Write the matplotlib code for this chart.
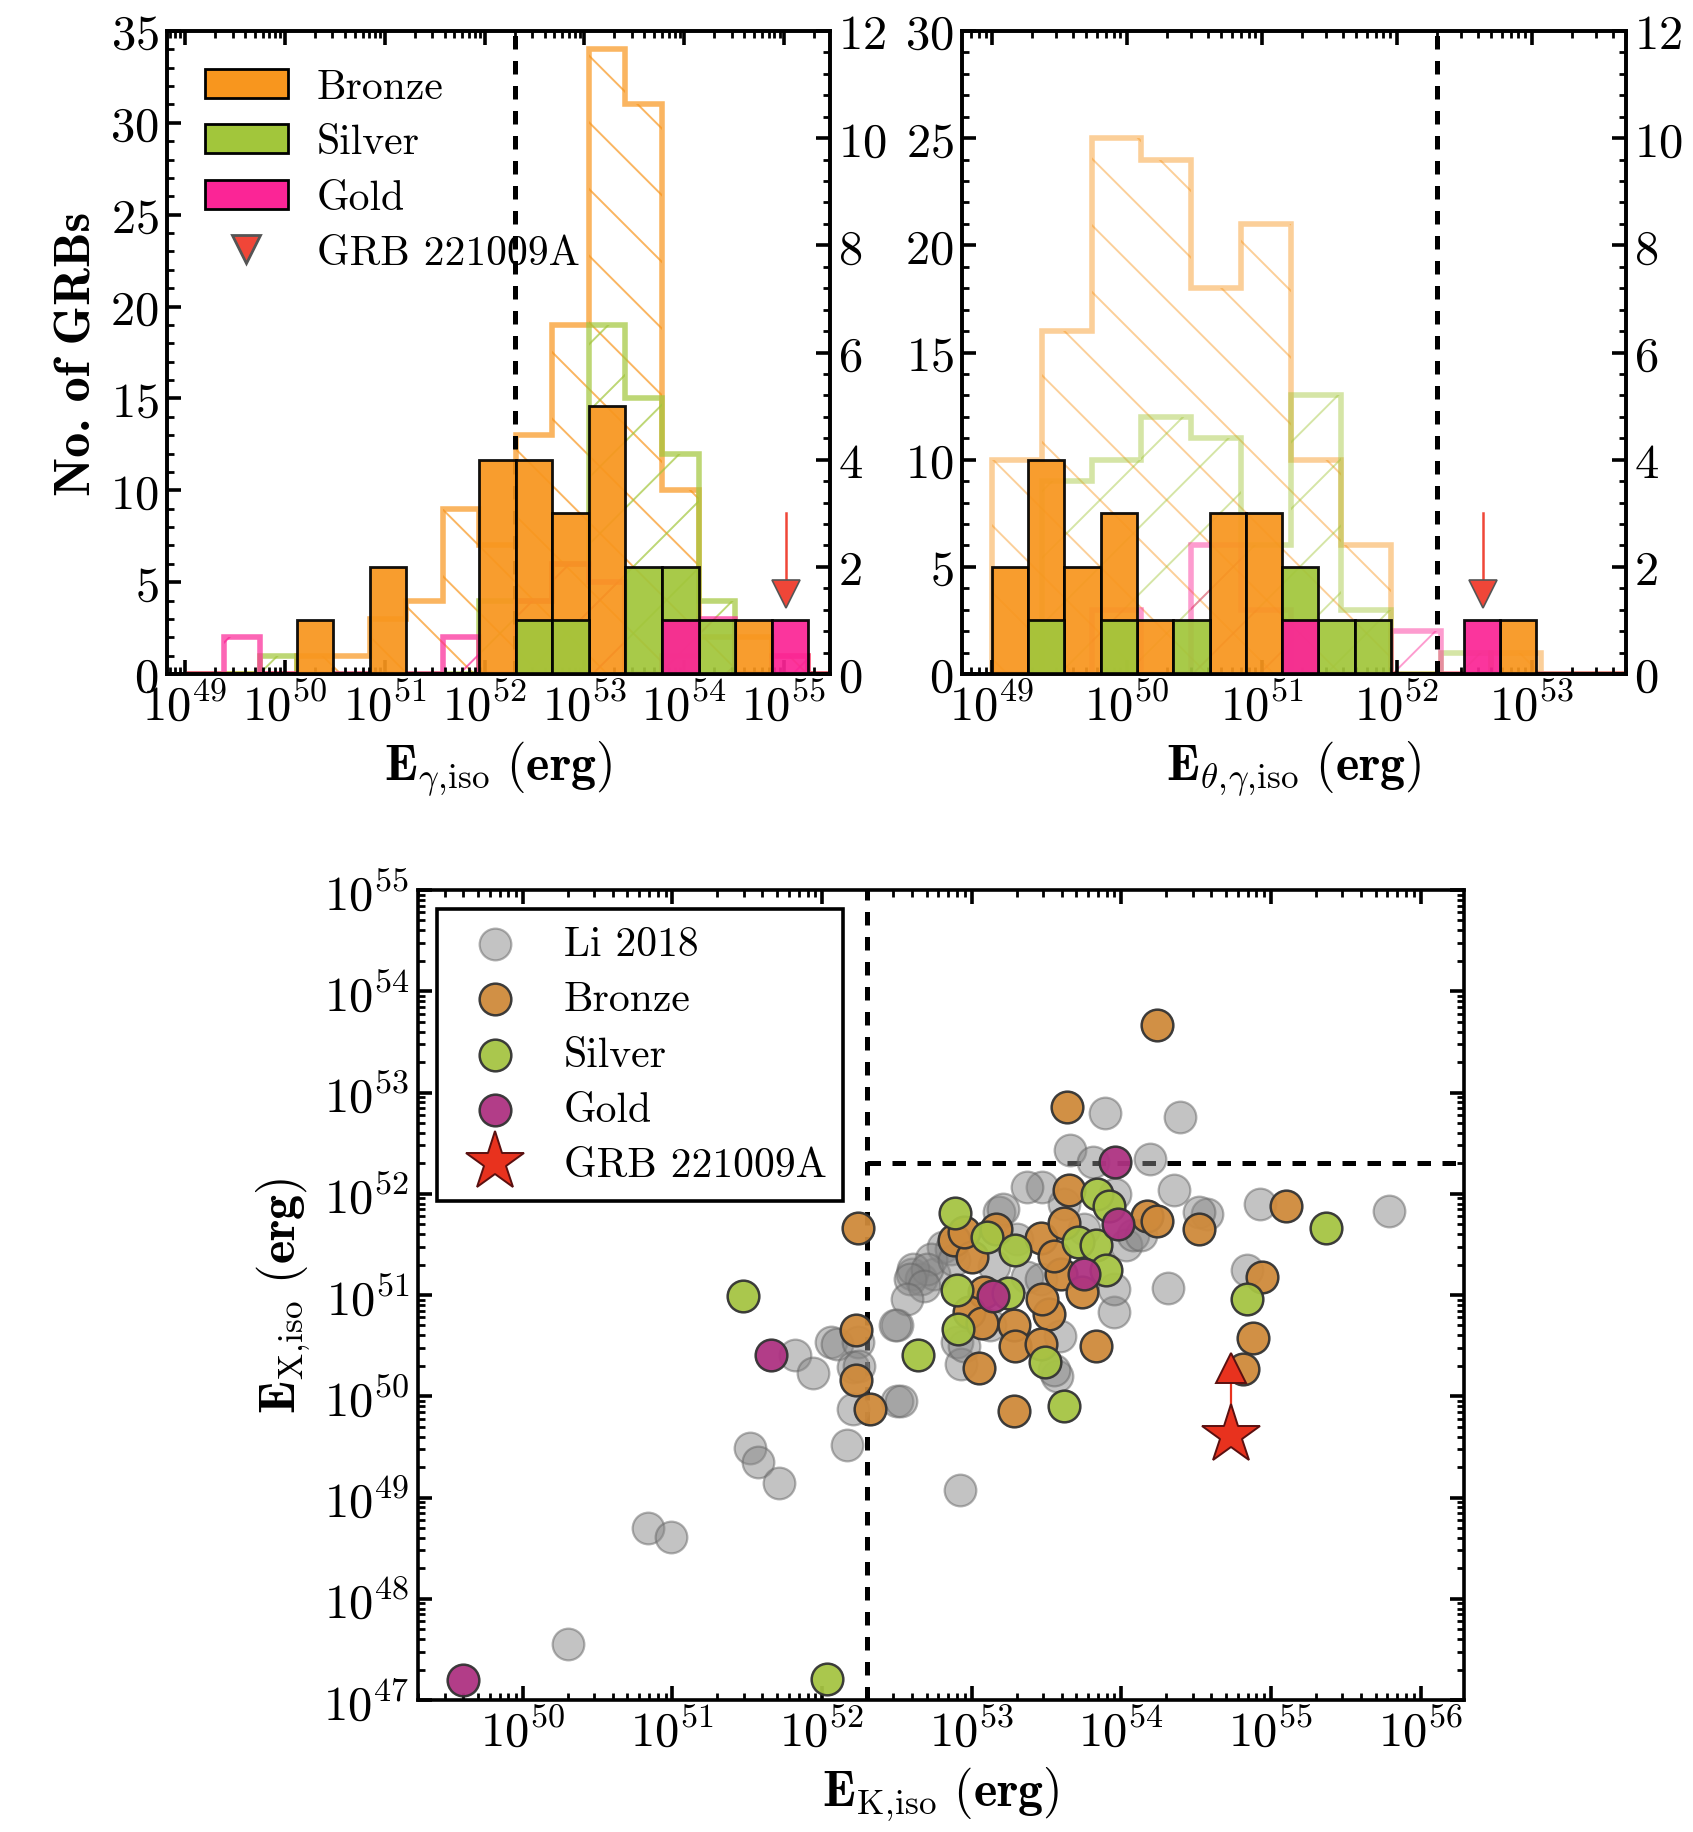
import numpy as np
import matplotlib

matplotlib.use("Agg")
import matplotlib.pyplot as plt
from matplotlib.lines import Line2D
from matplotlib.patches import Patch
from matplotlib.ticker import LogLocator, MultipleLocator, NullFormatter

W, H, DPI = 1693, 1833, 200

BRONZE = "#f8961e"
SILVER = "#a2c63b"
GOLD = "#fb2596"
RED = "#f04638"
S_BRONZE = "#cf8a3b"
S_SILVER = "#a6c443"
S_GOLD = "#ae3282"
S_LI = "#888888"
STAR = "#e8321e"

plt.rcParams.update({
    "font.family": "cmr10",
    "mathtext.fontset": "cm",
    "axes.formatter.use_mathtext": True,
    "axes.unicode_minus": False,
    "font.size": 17.5,
    "axes.linewidth": 1.3,
    "hatch.linewidth": 0.7,
    "xtick.direction": "in",
    "ytick.direction": "in",
    "xtick.major.size": 5,
    "ytick.major.size": 5,
    "xtick.minor.size": 2.6,
    "ytick.minor.size": 2.6,
    "xtick.major.width": 1.3,
    "ytick.major.width": 1.3,
    "xtick.minor.width": 1.0,
    "ytick.minor.width": 1.0,
    "xtick.major.pad": 3,
    "ytick.major.pad": 3,
})

E_CUT = 2e52

# ---- E_gamma,iso histogram ---------------------------------------------------
# our sample (right axis) on 16 log bins; Li 2018 (left axis) on the same bins padded by one each side
EG_BINS = np.logspace(49.39, 55.24, 17)
EG_REF_BINS = np.logspace(49.0244, 55.6056, 19)
eg_bronze = [0, 0, 1, 0, 2, 0, 0, 4, 4, 3, 5, 0, 0, 0, 1, 0]
eg_silver = [0, 0, 0, 0, 0, 0, 0, 0, 1, 1, 0, 2, 2, 1, 0, 0]
eg_gold = [0, 0, 0, 0, 0, 0, 0, 0, 0, 0, 0, 0, 1, 0, 0, 1]
eg_ref_bronze = [0, 0, 0, 1, 1, 3, 4, 9, 7, 13, 19, 34, 31, 10, 2, 2, 1, 0]
eg_ref_silver = [0, 0, 1, 0, 0, 0, 0, 0, 4, 4, 6, 19, 15, 12, 4, 0, 0, 0]
eg_ref_gold = [0, 2, 0, 0, 0, 0, 0, 2, 0, 4, 6, 5, 0, 1, 3, 0, 1, 0]

# ---- E_theta,gamma,iso histogram ---------------------------------------------
ET_BINS = np.logspace(49.0, 53.035, 16)
ET_REF_BINS = np.logspace(49.0, 53.81, 14)
et_bronze = [2, 4, 2, 3, 1, 0, 3, 3, 0, 0, 0, 0, 0, 0, 1]
et_silver = [0, 1, 0, 1, 0, 1, 0, 0, 2, 1, 1, 0, 0, 0, 0]
et_gold = [0, 0, 0, 0, 0, 0, 0, 0, 1, 0, 0, 0, 0, 1, 0]
et_ref_bronze = [10, 16, 25, 24, 18, 21, 10, 6, 0, 0, 1, 0, 0]
et_ref_silver = [0, 9, 10, 12, 11, 6, 13, 3, 0, 1, 0, 0, 0]
et_ref_gold = [0, 0, 3, 0, 6, 3, 0, 0, 2, 0, 0, 0, 0]

# GRB 221009A upper limits (right-axis units for the arrow)
grb_eg = 1.05e55
grb_et = 4.4e52
lim_top, lim_mark = 3.0, 1.5

# ---- E_K,iso vs E_X,iso (log10 erg) -------------------------------------------
li_ek = [50.30, 50.84, 50.99, 51.52, 51.57, 51.71, 52.17, 52.92, 51.82, 51.94,
         52.06, 52.10, 52.24, 52.21, 52.21, 52.50, 52.50, 52.60, 52.66, 52.75,
         52.81, 52.86, 52.73, 52.90, 52.93, 53.18, 53.89, 54.39, 53.66, 54.19,
         53.81, 54.35, 53.47, 53.37, 53.21, 54.93, 55.79, 54.57, 54.52, 54.31,
         54.84, 53.95, 53.95, 53.57, 53.59, 53.37, 53.46, 53.15, 54.03, 54.08,
         54.13, 53.12, 52.95, 52.61, 52.70, 52.59, 52.68, 52.57, 52.49, 52.25,
         52.53, 53.55, 52.88, 53.30, 53.75, 53.62, 53.96]
li_ex = [47.55, 48.70, 48.61, 49.49, 49.35, 49.14, 49.52, 49.07, 50.41, 50.23,
         50.54, 50.52, 50.54, 50.29, 49.87, 49.95, 50.70, 51.21, 51.16, 51.21,
         51.47, 51.45, 51.36, 50.54, 50.32, 51.82, 52.80, 52.76, 52.43, 52.34,
         52.31, 52.04, 52.07, 52.07, 51.85, 51.90, 51.83, 51.80, 51.82, 51.07,
         51.25, 50.83, 51.06, 50.20, 50.60, 51.18, 51.16, 51.29, 51.49, 51.59,
         51.59, 50.70, 50.50, 51.26, 51.26, 51.16, 51.09, 50.96, 50.70, 50.30,
         49.95, 50.26, 51.35, 51.55, 51.65, 51.90, 52.00]
bronze_ek = [52.24, 52.23, 52.23, 52.32, 53.64, 54.24, 52.88, 53.00, 53.16, 52.95,
             53.46, 53.62, 53.65, 53.60, 53.55, 53.74, 53.08, 52.98, 53.07, 53.28,
             53.52, 53.47, 53.29, 53.46, 53.05, 53.83, 53.28, 54.17, 54.24, 54.52,
             55.10, 54.94, 54.88, 54.81]
bronze_ex = [51.66, 50.65, 50.16, 49.87, 52.86, 53.67, 51.54, 51.38, 51.65, 51.62,
             51.56, 51.71, 52.04, 51.21, 51.39, 51.03, 51.03, 50.83, 50.72, 50.70,
             50.81, 50.96, 50.50, 50.52, 50.28, 50.50, 49.85, 51.78, 51.73, 51.65,
             51.88, 51.18, 50.58, 50.27]
silver_ek = [51.47, 52.03, 52.89, 53.10, 53.29, 53.84, 53.92, 53.71, 53.83, 53.90,
             52.90, 53.24, 52.91, 52.64, 53.49, 53.62, 55.37, 54.84]
silver_ex = [50.99, 47.21, 51.81, 51.57, 51.44, 52.00, 51.88, 51.52, 51.49, 51.25,
             51.05, 51.02, 50.66, 50.41, 50.34, 49.90, 51.66, 50.96]
gold_ek = [49.60, 51.66, 53.96, 53.98, 53.75, 53.14]
gold_ex = [47.20, 50.41, 52.31, 51.70, 51.21, 50.99]
grb_ek_log, grb_ex_log, grb_ex_lim_log = 54.73, 49.62, 50.28

fig = plt.figure(figsize=(W / DPI, H / DPI), dpi=DPI)
LABEL_KW = dict(fontsize=18)


def log_ticks(axis):
    axis.set_major_locator(LogLocator(base=10, numticks=30))
    axis.set_minor_locator(LogLocator(base=10, subs=np.arange(2, 10), numticks=200))
    axis.set_minor_formatter(NullFormatter())


def hist_panel(rect, ref_bins, refs, bins, ours, ymax, ref_alpha, grb_x, xlim, xlabel):
    ax = fig.add_axes(rect)
    ax.set_xscale("log")
    for c, col, hatch in zip(refs, (BRONZE, SILVER, GOLD), ("\\", "/", "/")):
        ax.stairs(c, ref_bins, baseline=0, fill=False, edgecolor=col,
                  alpha=ref_alpha, lw=2.0, hatch=hatch)
    ax.axvline(E_CUT, color="k", lw=1.8, ls=(0, (2.7, 2.3)))
    ax.set_xlim(*xlim)
    ax.set_ylim(0, ymax)
    log_ticks(ax.xaxis)
    ax.yaxis.set_major_locator(MultipleLocator(5))
    ax.yaxis.set_minor_locator(MultipleLocator(1))
    ax.tick_params(which="both", top=True, right=False)
    ax.set_xlabel(xlabel, **LABEL_KW)
    ax.xaxis.set_label_coords(0.5, -0.10)

    ax2 = ax.twinx()
    for c, col in zip(ours, (BRONZE, SILVER, GOLD)):
        c = np.asarray(c, dtype=float)
        m = c > 0
        ax2.bar(bins[:-1][m], c[m], width=np.diff(bins)[m], align="edge",
                color=col, edgecolor="k", lw=1.0, alpha=0.93)
    ax2.plot([grb_x, grb_x], [lim_top, lim_mark], color=RED, lw=0.9)
    ax2.plot(grb_x, lim_mark, "v", ms=10, color=RED, mec="#555555", mew=0.6)
    ax2.set_ylim(0, 12)
    ax2.yaxis.set_major_locator(MultipleLocator(2))
    ax2.yaxis.set_minor_locator(MultipleLocator(0.4))
    ax2.tick_params(which="both", right=True, left=False)
    return ax, ax2


ax_g, ax_g2 = hist_panel(
    [167 / W, 1 - 675 / H, 663 / W, 643 / H], EG_REF_BINS,
    (eg_ref_bronze, eg_ref_silver, eg_ref_gold), EG_BINS,
    (eg_bronze, eg_silver, eg_gold), 35, 0.7, grb_eg,
    (10 ** 48.82, 10 ** 55.46),
    r"$\mathbf{E}_{\gamma,\!\mathrm{iso}}\ \mathbf{(erg)}$")
ax_g.set_ylabel("No. of GRBs", family="cmb10", **LABEL_KW)
ax_g.yaxis.set_label_coords(-0.100, 0.5)
handles = [
    Patch(facecolor=BRONZE, edgecolor="k", label="Bronze"),
    Patch(facecolor=SILVER, edgecolor="k", label="Silver"),
    Patch(facecolor=GOLD, edgecolor="k", label="Gold"),
    Line2D([], [], marker="v", ls="none", color=RED, mec="#555555", ms=10,
           label="GRB 221009A"),
]
ax_g2.legend(handles=handles, loc="upper left", frameon=False, fontsize=15,
             handlelength=2.0, handleheight=0.7, handletextpad=0.7,
             labelspacing=0.43)

hist_panel(
    [962 / W, 1 - 675 / H, 664 / W, 643 / H], ET_REF_BINS,
    (et_ref_bronze, et_ref_silver, et_ref_gold), ET_BINS,
    (et_bronze, et_silver, et_gold), 30, 0.45, grb_et,
    (10 ** 48.78, 10 ** 53.70),
    r"$\mathbf{E}_{\theta,\!\gamma,\!\mathrm{iso}}\ \mathbf{(erg)}$")

# ---- scatter panel -------------------------------------------------------------
axb = fig.add_axes([418 / W, 1 - 1701 / H, 1046 / W, 810 / H])
axb.set_xscale("log")
axb.set_yscale("log")
axb.set_xlim(10 ** 49.30, 10 ** 56.29)
axb.set_ylim(1e47, 1e55)
dash = (0, (2.7, 2.3))
axb.axvline(E_CUT, color="k", lw=1.8, ls=dash, zorder=1)
axb.hlines(E_CUT, E_CUT, axb.get_xlim()[1], color="k", lw=1.8, ls=dash, zorder=1)

kw = dict(s=130, zorder=3)
axb.scatter(10 ** np.array(li_ek), 10 ** np.array(li_ex), c=S_LI, alpha=0.5,
            edgecolors="#666666", lw=0.8, label="Li 2018", **kw)
axb.scatter(10 ** np.array(bronze_ek), 10 ** np.array(bronze_ex), c=S_BRONZE,
            alpha=0.95, edgecolors="#333333", lw=0.9, label="Bronze", **kw)
axb.scatter(10 ** np.array(silver_ek), 10 ** np.array(silver_ex), c=S_SILVER,
            alpha=0.95, edgecolors="#333333", lw=0.9, label="Silver", **kw)
axb.scatter(10 ** np.array(gold_ek), 10 ** np.array(gold_ex), c=S_GOLD,
            alpha=0.95, edgecolors="#333333", lw=0.9, label="Gold", **kw)
axb.plot([10 ** grb_ek_log] * 2, [10 ** grb_ex_log, 10 ** grb_ex_lim_log],
         color=STAR, lw=0.8, zorder=4)
axb.plot(10 ** grb_ek_log, 10 ** grb_ex_lim_log, "^", ms=11, color=STAR,
         mec="#5a1010", mew=0.7, zorder=5)
axb.plot(10 ** grb_ek_log, 10 ** grb_ex_log, "*", ms=22, color=STAR,
         mec="#5a1010", mew=0.7, ls="none", zorder=5, label="GRB 221009A")

log_ticks(axb.xaxis)
log_ticks(axb.yaxis)
axb.tick_params(which="both", top=True, right=True)
axb.set_xlabel(r"$\mathbf{E}_{\mathrm{K},\!\mathrm{iso}}\ \mathbf{(erg)}$", **LABEL_KW)
axb.xaxis.set_label_coords(0.5, -0.08)
axb.set_ylabel(r"$\mathbf{E}_{\mathrm{X},\!\mathrm{iso}}\ \mathbf{(erg)}$", **LABEL_KW)
axb.yaxis.set_label_coords(-0.10, 0.5)
leg = axb.legend(loc="upper left", fontsize=15, frameon=True, fancybox=False,
                 edgecolor="k", framealpha=1, handlelength=2.0, handletextpad=0.65,
                 labelspacing=0.43, borderpad=0.4, borderaxespad=0.45,
                 scatterpoints=1)
leg.get_frame().set_linewidth(1.3)
leg.set_zorder(10)

fig.savefig("out.png", dpi=DPI)
